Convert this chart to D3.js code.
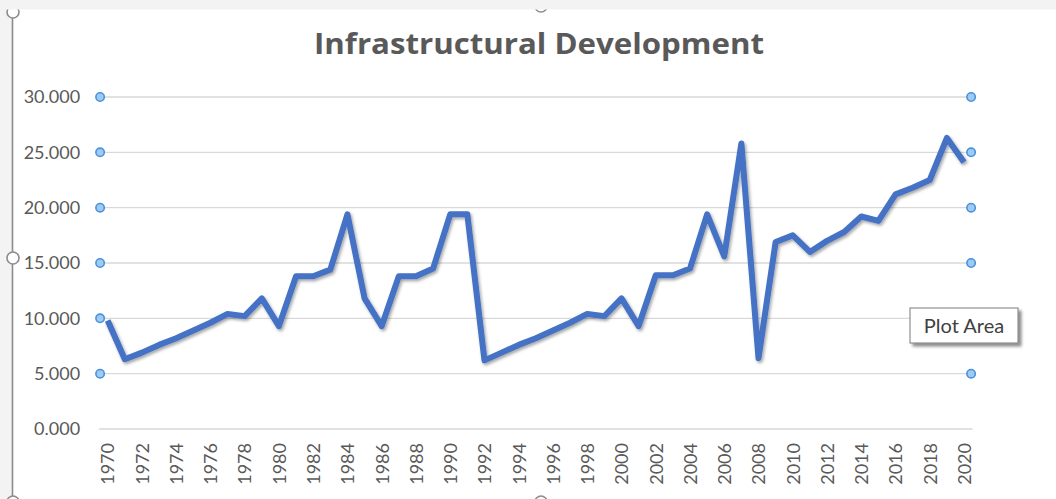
<!DOCTYPE html>
<html>
<head>
<meta charset="utf-8">
<script src="https://cdn.jsdelivr.net/npm/d3@7/dist/d3.min.js"></script>
<style>
  html, body { margin: 0; padding: 0; background: #ffffff; }
  svg { display: block; }
</style>
</head>
<body>
<svg id="chart" width="1056" height="499"></svg>
<script>
// ---- data ----
const title = "Infrastructural Development";
const years = d3.range(1970, 2021);
const values = [
  9.8, 6.3, 6.9, 7.6, 8.2, 8.9, 9.6, 10.4, 10.2, 11.8,
  9.3, 13.8, 13.8, 14.4, 19.4, 11.8, 9.3, 13.8, 13.8, 14.5,
  19.4, 19.4, 6.2, 6.9, 7.6, 8.2, 8.9, 9.6, 10.4, 10.2,
  11.8, 9.3, 13.9, 13.9, 14.5, 19.4, 15.6, 25.8, 6.4, 16.9,
  17.5, 16.0, 17.0, 17.8, 19.2, 18.8, 21.2, 21.8, 22.5, 26.3,
  24.1
];
const yTicks = [0, 5, 10, 15, 20, 25, 30];
const xTickLabels = years.filter(y => y % 2 === 0);
const handleTicks = [5, 10, 15, 20, 25, 30];
const tooltipText = "Plot Area";

// ---- layout ----
const svg = d3.select("#chart");
const W = 1056, H = 499;
const plot = { left: 99.1, right: 972.6, top: 97, bottom: 429 };
const FONT = "Lato, 'Open Sans', sans-serif";

const x = d3.scalePoint().domain(years).range([plot.left, plot.right]).padding(0.5);
const y = d3.scaleLinear().domain([0, 30]).range([plot.bottom, plot.top]);

const defs = svg.append("defs");
const sh = defs.append("filter").attr("id", "lineShadow")
  .attr("x", "-5%").attr("y", "-10%").attr("width", "110%").attr("height", "120%");
sh.append("feDropShadow").attr("dx", 1.5).attr("dy", 2).attr("stdDeviation", 1.8)
  .attr("flood-color", "#000").attr("flood-opacity", 0.35);
const tsh = defs.append("filter").attr("id", "tipShadow")
  .attr("x", "-10%").attr("y", "-20%").attr("width", "130%").attr("height", "160%");
tsh.append("feDropShadow").attr("dx", 3).attr("dy", 3).attr("stdDeviation", 1.5)
  .attr("flood-color", "#000").attr("flood-opacity", 0.45);

svg.append("rect").attr("x", 0).attr("y", 0).attr("width", W).attr("height", H).attr("fill", "#ffffff");

// gridlines
svg.append("g").selectAll("line").data(yTicks).join("line")
  .attr("x1", plot.left).attr("x2", plot.right)
  .attr("y1", d => y(d)).attr("y2", d => y(d))
  .attr("stroke", "#d9d9d9").attr("stroke-width", 1.3);

// y axis labels
const yAxis = d3.axisLeft(y).tickValues(yTicks).tickSize(0).tickPadding(19)
  .tickFormat(d => d3.format(".3f")(d));
const gy = svg.append("g").attr("transform", `translate(${plot.left},0)`).call(yAxis);
gy.select(".domain").remove();
gy.selectAll("text").attr("font-family", FONT).attr("font-size", 18).attr("fill", "#595959");

// x axis labels
const xAxis = d3.axisBottom(x).tickValues(xTickLabels).tickSize(0);
const gx = svg.append("g").attr("transform", `translate(0,${plot.bottom})`).call(xAxis);
gx.select(".domain").remove();
gx.selectAll("text")
  .attr("font-family", FONT).attr("font-size", 18).attr("fill", "#595959")
  .attr("transform", "rotate(-90)")
  .attr("text-anchor", "end")
  .attr("x", -14).attr("y", 0).attr("dy", "0.35em");

// line
const line = d3.line().x((d, i) => x(years[i])).y(d => y(d));
svg.append("path").datum(values)
  .attr("d", line)
  .attr("fill", "none")
  .attr("stroke", "#4472c4")
  .attr("stroke-width", 6)
  .attr("stroke-linejoin", "round")
  .attr("stroke-linecap", "butt")
  .attr("filter", "url(#lineShadow)");

// title
svg.append("text").attr("x", 539).attr("y", 54)
  .attr("text-anchor", "middle")
  .attr("font-family", "'Open Sans', Lato, sans-serif").attr("font-weight", 700).attr("font-size", 28)
  .attr("textLength", 450).attr("lengthAdjust", "spacingAndGlyphs")
  .attr("fill", "#595959").text(title);

// plot-area selection handles
const handles = svg.append("g");
[plot.left + 1, plot.right - 1.5].forEach(hx => {
  handles.selectAll(null).data(handleTicks).join("circle")
    .attr("cx", hx).attr("cy", d => y(d)).attr("r", 4.2)
    .attr("fill", "#9ecbf2").attr("stroke", "#4a92dc").attr("stroke-width", 1.6);
});

// tooltip
const tip = svg.append("g").attr("transform", "translate(910,308)");
tip.append("rect").attr("width", 108).attr("height", 35)
  .attr("fill", "#ffffff").attr("stroke", "#7a7a7a").attr("stroke-width", 1)
  .attr("filter", "url(#tipShadow)");
tip.append("text").attr("x", 54).attr("y", 24.5).attr("text-anchor", "middle")
  .attr("font-family", FONT).attr("font-size", 20).attr("fill", "#404040").text(tooltipText);

// outer frame (chart selection)
svg.append("rect").attr("x", 0).attr("y", 0).attr("width", 12).attr("height", H).attr("fill", "#f3f3f3");
svg.append("line").attr("x1", 12.5).attr("x2", 12.5).attr("y1", 10).attr("y2", H)
  .attr("stroke", "#8c8c8c").attr("stroke-width", 1.6);
const frameHandles = [[13, 12], [541, 6], [13, 258], [541, 502], [13, 502]];
svg.append("g").selectAll("circle").data(frameHandles).join("circle")
  .attr("cx", d => d[0]).attr("cy", d => d[1]).attr("r", 6)
  .attr("fill", "#ffffff").attr("stroke", "#8c8c8c").attr("stroke-width", 1.6);
svg.append("rect").attr("x", 0).attr("y", 0).attr("width", W).attr("height", 9.5).attr("fill", "#f3f3f3");
</script>
</body>
</html>
